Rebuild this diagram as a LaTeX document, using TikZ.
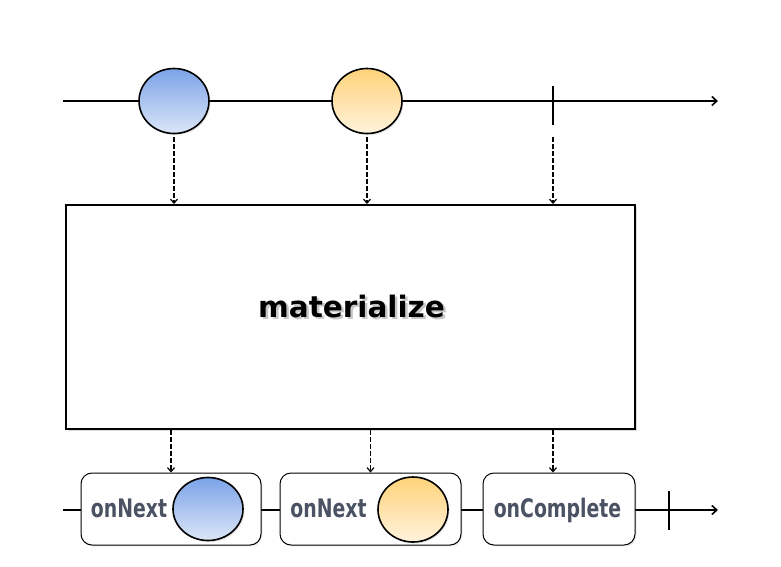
\documentclass[tikz,border=0pt]{standalone}
\usepackage{fontspec}
\setmainfont{DejaVu Sans}
\usetikzlibrary{arrows.meta,shapes.geometric,shadows}
\definecolor{txt}{HTML}{4A5264}
\definecolor{blueT}{HTML}{7BA3E8}
\definecolor{blueB}{HTML}{DCE6F8}
\definecolor{orT}{HTML}{FFD27A}
\definecolor{orB}{HTML}{FFF3DC}
\newcommand{\shadowtext}[1]{\makebox[0pt][l]{\hspace{2.5pt}\raisebox{-2.5pt}{\color{black!22}#1}}#1}
\tikzset{
  timeline/.style={line width=1.8pt,-{Straight Barb[length=5pt,width=9pt,line width=1.6pt]}},
  tickline/.style={line width=1.8pt},
  dasharrow/.style={line width=1.3pt,dash pattern=on 4.5pt off 2.5pt,-{Straight Barb[length=4pt,width=7pt,line width=1.2pt]}},
  marble/.style={ellipse,draw,line width=1.6pt,minimum width=70pt,minimum height=65pt,inner sep=0pt,
    drop shadow={opacity=0.2,shadow xshift=1.5pt,shadow yshift=-1.5pt}},
  bluemarble/.style={marble,top color=blueT,bottom color=blueB},
  orangemarble/.style={marble,top color=orT,bottom color=orB},
  opbox/.style={draw,line width=2pt,fill=white,minimum width=569pt,minimum height=224pt,inner sep=0pt,
    drop shadow={opacity=0.25,shadow xshift=2pt,shadow yshift=-2pt}},
  notifbox/.style={draw,line width=1pt,rounded corners=11pt,fill=white,minimum height=72pt,inner sep=0pt,
    drop shadow={opacity=0.15,shadow xshift=1.5pt,shadow yshift=-1.5pt}},
  optext/.style={font=\bfseries\fontsize{29.5}{29.5}\selectfont,anchor=base,inner sep=0pt},
  notiftext/.style={font=\bfseries\fontsize{25.5}{25.5}\selectfont,text=txt,anchor=base,inner sep=0pt},
}
\begin{document}
\begin{tikzpicture}[x=1pt,y=-1pt]
\useasboundingbox[fill=white] (0,0) rectangle (781,566);
% top timeline
\coordinate (tl0) at (63,101);
\coordinate (tl1) at (718,101);
\draw[timeline] (tl0) -- (tl1);
\node[bluemarble] (m1) at (174,101) {};
\node[orangemarble] (m2) at (367,101) {};
\coordinate (k1t) at (553,86);
\coordinate (k1b) at (553,125);
\coordinate (k1d) at (553,137);
\draw[tickline] (k1t) -- (k1b);
% operator box
\node[opbox] (box) at (350.5,317) {};
\node[optext] (mtext) at (351.5,317) {\shadowtext{materialize}};
\draw[dasharrow] ([yshift=-3pt]m1.south) -- (m1.south |- box.north);
\draw[dasharrow] ([yshift=-3pt]m2.south) -- (m2.south |- box.north);
\draw[dasharrow] (k1d) -- (k1d |- box.north);
% bottom timeline
\coordinate (bl0) at (63,510);
\coordinate (bl1) at (718,510);
\draw[timeline] (bl0) -- (bl1);
\node[notifbox,minimum width=180pt] (b1) at (171,509) {};
\node[notifbox,minimum width=181pt] (b2) at (370.5,509) {};
\node[notifbox,minimum width=152pt] (b3) at (559,509) {};
\node[notiftext] (t1) at (129,517) {\scalebox{0.74}[1]{onNext}};
\node[bluemarble,minimum height=63pt] (n1) at (208,509) {};
\node[notiftext] (t2) at (328.5,517) {\scalebox{0.74}[1]{onNext}};
\node[orangemarble] (n2) at (413,509.5) {};
\node[notiftext] (t3) at (557.5,517) {\scalebox{0.74}[1]{onComplete}};
\coordinate (k2t) at (669,491);
\coordinate (k2b) at (669,530);
\draw[tickline] (k2t) -- (k2b);
% arrows to notifications
\draw[dasharrow] (box.south -| b1.north) -- (b1.north);
\draw[dasharrow] (box.south -| b2.north) -- (b2.north);
\draw[dasharrow] (box.south -| k1t) -- (k1t |- b3.north);
\end{tikzpicture}
\end{document}
